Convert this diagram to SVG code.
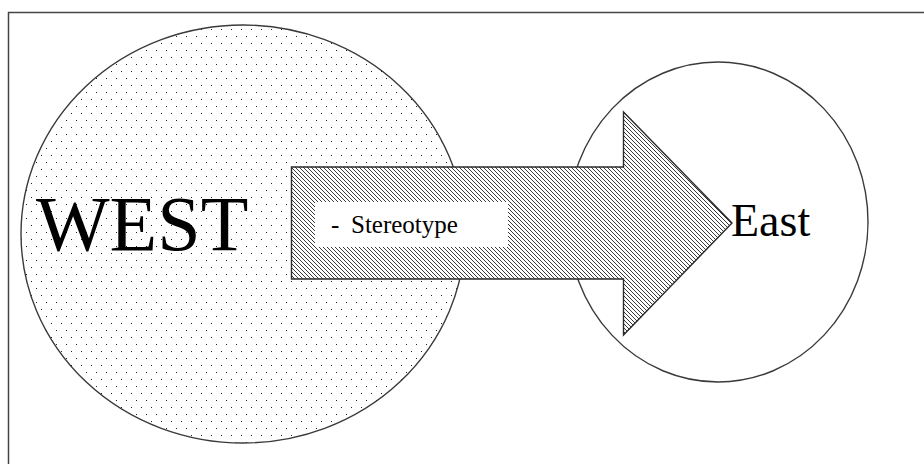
<svg xmlns="http://www.w3.org/2000/svg" width="924" height="464" viewBox="0 0 924 464">
  <style>
    .outline { stroke: #3a3a3a; stroke-width: 1.4; }
    .serif { font-family: "Liberation Serif", "Times New Roman", serif; fill: #000; }
  </style>
  <defs>
    <pattern id="dots" patternUnits="userSpaceOnUse" x="0" y="0" width="10" height="14">
      <rect x="1" y="1" width="1" height="1" fill="#222"/>
      <rect x="6" y="8" width="1" height="1" fill="#222"/>
    </pattern>
    <pattern id="hatch" patternUnits="userSpaceOnUse" width="4" height="4">
      <path d="M-1,-1 L5,5 M-1,3 L1,5 M3,-1 L5,1" stroke="#222" stroke-width="0.9" fill="none"/>
    </pattern>
  </defs>
  <rect width="924" height="464" fill="#fff"/>
  <rect id="frame" x="8.5" y="12.5" width="1000" height="1000" fill="none" stroke="#444" stroke-width="1.5"/>

  <g id="west">
    <ellipse cx="243" cy="234" rx="222" ry="209" fill="#fff"/>
    <ellipse cx="243" cy="234" rx="222" ry="209" fill="url(#dots)" class="outline"/>
    <text class="serif" x="36" y="250" font-size="78">WEST</text>
  </g>

  <g id="east">
    <ellipse cx="718" cy="222" rx="150" ry="160" fill="#fff" class="outline"/>
  </g>

  <g id="connectors">
    <polygon points="291.5,167 623.5,167 623.5,112 732,223 623.5,335 623.5,279 291.5,279" fill="#fff"/>
    <polygon points="291.5,167 623.5,167 623.5,112 732,223 623.5,335 623.5,279 291.5,279" fill="url(#hatch)" stroke="#2a2a2a" stroke-width="1.4"/>
    <rect x="315" y="202" width="193" height="45" fill="#fff"/>
    <text class="serif" font-size="25" y="233"><tspan x="331">-</tspan><tspan x="351">Stereotype</tspan></text>
  </g>

  <g id="east-label">
    <text class="serif" x="731" y="236" font-size="46">East</text>
  </g>
</svg>
